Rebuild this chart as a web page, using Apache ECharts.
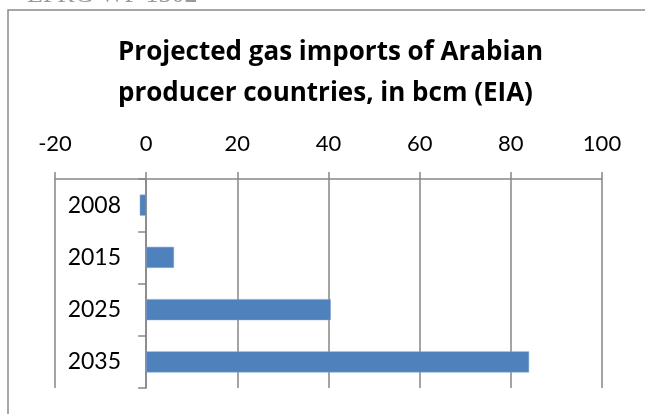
<!DOCTYPE html>
<html>
<head>
<meta charset="utf-8">
<script src="https://cdn.jsdelivr.net/npm/echarts@6/dist/echarts.min.js"></script>
<style>
  html, body { margin: 0; padding: 0; background: #fff; }
  #chart { width: 645px; height: 414px; }
</style>
</head>
<body>
<div id="chart"></div>
<script>
  // data
  var years = ['2008', '2015', '2025', '2035'];
  var imports = [-1.4, 6.1, 40.5, 84.0];
  var axisMin = -20, axisMax = 100, axisStep = 20;

  var gray = '#868686';
  var myChart = echarts.init(document.getElementById('chart'));

  var options = {
    animation: false,
    title: {
      text: 'Projected gas imports of Arabian\nproducer countries, in bcm (EIA)',
      left: 118,
      top: 32,
      padding: 0,
      textStyle: {
        fontFamily: 'Open Sans',
        fontSize: 26,
        fontWeight: 'bold',
        lineHeight: 41,
        align: 'center',
        color: '#000'
      }
    },
    graphic: [
      {
        type: 'rect',
        z: -1,
        shape: { x: 8, y: 10, width: 700, height: 500 },
        style: { fill: 'none', stroke: '#8a8a8a', lineWidth: 1.5 }
      },
      {
        type: 'text',
        style: {
          text: 'EPRG WP 1302',
          x: 27, y: 8,
          verticalAlign: 'bottom',
          fontFamily: 'Liberation Serif',
          fontSize: 26,
          fill: '#9a9a9a'
        }
      }
    ],
    grid: { left: 55, right: 43, top: 179, bottom: 26, outerBoundsMode: 'none', containLabel: false },
    xAxis: {
      type: 'value',
      position: 'top',
      min: axisMin,
      max: axisMax,
      interval: axisStep,
      axisLine: { show: true, lineStyle: { color: gray, width: 1.5 } },
      axisTick: { show: true, length: 7, lineStyle: { color: gray, width: 1.5 } },
      splitLine: { show: true, lineStyle: { color: gray, width: 1.5 } },
      axisLabel: { fontFamily: 'Lato', fontSize: 22, color: '#000', margin: 24 }
    },
    yAxis: {
      type: 'category',
      inverse: true,
      data: years,
      axisLine: { show: true, onZero: true, lineStyle: { color: gray, width: 1.5 } },
      axisTick: { show: true, length: 8, lineStyle: { color: gray, width: 1.5 } },
      // labels stay at the grid edge, so pull them in next to the zero line
      axisLabel: { fontFamily: 'Lato', fontSize: 23, color: '#000', margin: -66 }
    },
    series: [{
      type: 'bar',
      data: imports,
      barWidth: 21,
      itemStyle: { color: '#4f81bd', borderColor: '#7c9fd0', borderWidth: 0.5 }
    }]
  };

  myChart.setOption(options);
</script>
</body>
</html>
